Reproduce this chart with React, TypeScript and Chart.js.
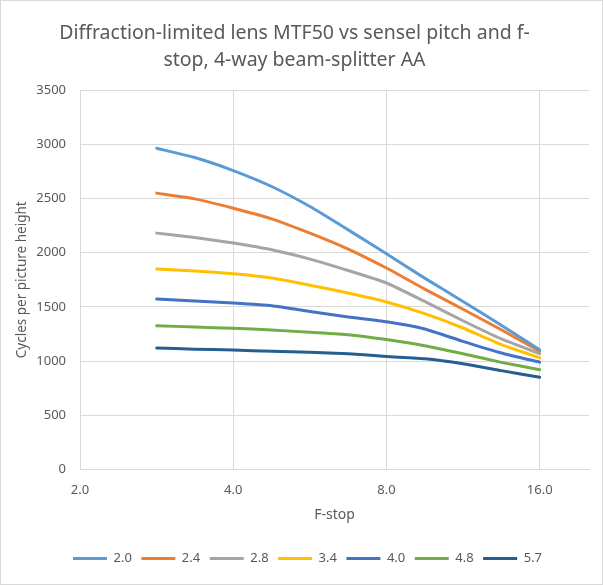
import { useEffect, useRef } from "react";
import { Chart, registerables } from "chart.js";

Chart.register(...registerables);

const fStops = [2.83, 3.36, 4.0, 4.76, 5.66, 6.73, 8.0, 9.51, 11.31, 13.45, 16.0];
const pitch20 = [2963, 2877, 2757, 2610, 2425, 2210, 1990, 1765, 1550, 1330, 1105];
const pitch24 = [2549, 2496, 2410, 2312, 2180, 2033, 1858, 1664, 1478, 1289, 1090];
const pitch28 = [2180, 2140, 2088, 2026, 1940, 1835, 1720, 1550, 1372, 1204, 1068];
const pitch34 = [1849, 1830, 1805, 1766, 1700, 1627, 1545, 1437, 1305, 1151, 1030];
const pitch40 = [1572, 1555, 1535, 1510, 1458, 1406, 1362, 1296, 1182, 1075, 990];
const pitch48 = [1326, 1314, 1302, 1287, 1265, 1243, 1198, 1142, 1068, 988, 920];
const pitch57 = [1121, 1110, 1102, 1090, 1081, 1068, 1042, 1022, 976, 912, 850];

const seriesLabels = ["2.0", "2.4", "2.8", "3.4", "4.0", "4.8", "5.7"];
const seriesValues = [pitch20, pitch24, pitch28, pitch34, pitch40, pitch48, pitch57];
const seriesColors = ["#5B9BD5", "#ED7D31", "#A5A5A5", "#FFC000", "#4472C4", "#70AD47", "#255E91"];

const xTickValues = [2, 4, 8, 16];
const xMin = 2;
const xMax = 20;
const yMin = 0;
const yMax = 3500;
const yStep = 500;

const titleLines = ["Diffraction-limited lens MTF50 vs sensel pitch and f-", "stop, 4-way beam-splitter AA"];
const xTitle = "F-stop";
const yTitle = "Cycles per picture height";

const FONT = "'Noto Sans', sans-serif";
const TEXT = "#595959";
const GRID = "#D9D9D9";

const framePlugin = {
  id: "frame",
  beforeDraw(chart: any) {
    const { ctx, width, height } = chart;
    ctx.save();
    ctx.fillStyle = "#ffffff";
    ctx.fillRect(0, 0, width, height);
    ctx.restore();
  },
  afterLayout(chart: any) {
    const lg = chart.legend;
    if (lg) {
      lg.left += 13;
      lg.right += 13;
    }
  },
  afterDraw(chart: any) {
    const { ctx, width, height } = chart;
    ctx.save();
    ctx.strokeStyle = GRID;
    ctx.lineWidth = 1;
    ctx.strokeRect(0.5, 0.5, width - 1, height - 1);
    ctx.restore();
  },
};

export default function App() {
  const canvasRef = useRef<HTMLCanvasElement | null>(null);

  useEffect(() => {
    if (!canvasRef.current) return;
    const chart = new Chart(canvasRef.current, {
      type: "line",
      data: {
        datasets: seriesLabels.map((label, i) => ({
          label,
          data: fStops.map((f, j) => ({ x: f, y: seriesValues[i][j] })),
          borderColor: seriesColors[i],
          backgroundColor: seriesColors[i],
          borderWidth: 3,
          borderCapStyle: "round",
          borderJoinStyle: "round",
          pointRadius: 0,
          pointHoverRadius: 0,
          tension: 0.15,
        })),
      },
      options: {
        responsive: false,
        animation: false,
        maintainAspectRatio: false,
        layout: { padding: { left: 0, right: 14, top: 0, bottom: 10 } },
        plugins: {
          tooltip: { enabled: false },
          title: {
            display: true,
            text: titleLines,
            color: TEXT,
            font: { family: FONT, size: 19.5, weight: "normal", lineHeight: "27px" },
            padding: { top: 20, bottom: 16 },
          },
          legend: {
            position: "bottom",
            labels: {
              color: TEXT,
              font: { family: FONT, size: 13 },
              usePointStyle: true,
              pointStyle: "line",
              pointStyleWidth: 34,
              padding: 9.5,
            },
          },
        },
        scales: {
          x: {
            type: "logarithmic",
            min: xMin,
            max: xMax,
            afterBuildTicks(scale: any) {
              scale.ticks = xTickValues.map((v) => ({ value: v }));
            },
            afterFit(scale: any) {
              scale.height = 73;
            },
            ticks: {
              color: TEXT,
              font: { family: FONT, size: 13 },
              padding: 13,
              maxRotation: 0,
              autoSkip: false,
              callback: (v: any) => Number(v).toFixed(1),
            },
            grid: { color: GRID, drawTicks: false, lineWidth: 1 },
            border: { display: true, color: GRID },
            title: {
              display: true,
              text: xTitle,
              color: TEXT,
              font: { family: FONT, size: 14 },
              padding: { top: 0, bottom: 18.6 },
            },
          },
          y: {
            type: "linear",
            min: yMin,
            max: yMax,
            afterFit(scale: any) {
              scale.width = 80;
            },
            ticks: {
              stepSize: yStep,
              color: TEXT,
              font: { family: FONT, size: 13 },
              padding: 14,
              callback: (v: any) => String(v),
            },
            grid: { color: GRID, drawTicks: false, lineWidth: 1 },
            border: { display: true, color: GRID },
            title: {
              display: true,
              text: yTitle,
              color: TEXT,
              font: { family: FONT, size: 13.5 },
              padding: { top: 14, bottom: 0 },
            },
          },
        },
      },
      plugins: [framePlugin],
    });
    return () => chart.destroy();
  }, []);

  return (
    <div style={{ position: "fixed", left: 0, top: 0, width: 603, height: 585 }}>
      <canvas ref={canvasRef} width={603} height={585} style={{ width: 603, height: 585, display: "block" }} />
    </div>
  );
}
